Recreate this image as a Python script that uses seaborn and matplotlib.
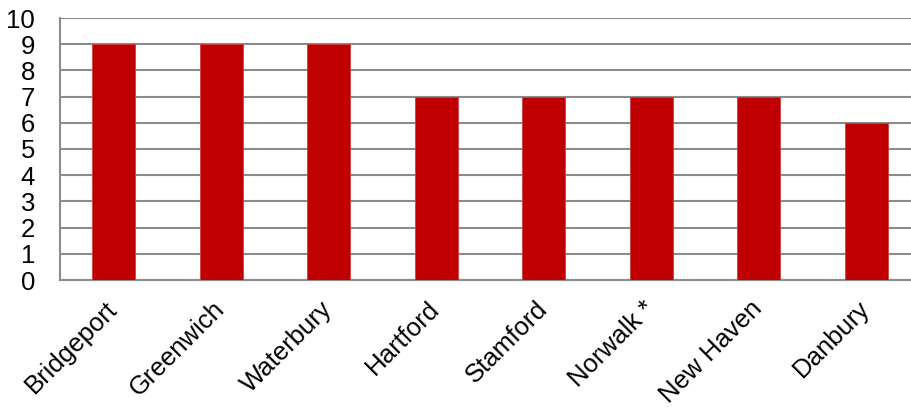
import matplotlib
matplotlib.use("Agg")
import matplotlib.pyplot as plt
import seaborn as sns
import pandas as pd
import numpy as np

cities = ["Bridgeport", "Greenwich", "Waterbury", "Hartford", "Stamford",
          "Norwalk *", "New Haven", "Danbury"]
counts = [9, 9, 9, 7, 7, 7, 7, 6]
y_ticks = list(range(0, 11))

sns.set_theme(style="white")
plt.rcParams["font.family"] = ["Liberation Sans", "DejaVu Sans"]

grid_grey = "#8c8c8c"
bar_red = "#c00000"

df = pd.DataFrame({"city": cities, "count": counts})

fig = plt.figure(figsize=(9.11, 4.08), dpi=100)
# axes right edge runs slightly past the canvas
ax = fig.add_axes([60 / 911, 1 - 280 / 408, 860 / 911, 262 / 408])

sns.barplot(data=df, x="city", y="count", color=bar_red, width=0.4,
            saturation=1, edgecolor="#d04040", linewidth=0.6, ax=ax, zorder=3)

ax.set_xlim(-0.5, len(cities) - 0.5)
ax.set_ylim(0, 10)
ax.set_yticks(y_ticks)
ax.set_yticklabels([str(t) for t in y_ticks], fontsize=18.5, color="black")
ax.yaxis.grid(True, color=grid_grey, linewidth=1.5, zorder=0)
ax.set_axisbelow(True)

# category ticks sit on the boundaries between bars
ax.set_xticks(np.arange(len(cities) + 1) - 0.5, minor=False)
ax.set_xticklabels([""] * (len(cities) + 1))
ax.set_xticks(np.arange(len(cities)), minor=True)
ax.set_xticklabels(cities, minor=True, rotation=45, ha="right", va="center",
                   rotation_mode="anchor", fontsize=18.5, color="black")
ax.tick_params(axis="x", which="minor", length=0, pad=18)
ax.tick_params(axis="x", which="major", length=8, width=1.5, color=grid_grey,
               direction="out")
ax.tick_params(axis="y", length=8, width=1.5, color=grid_grey, direction="out",
               pad=10)

ax.set_xlabel("")
ax.set_ylabel("")
for side in ["top", "right"]:
    ax.spines[side].set_visible(False)
for side in ["left", "bottom"]:
    ax.spines[side].set_color(grid_grey)
    ax.spines[side].set_linewidth(1.5)

fig.savefig("out.png", dpi=100)
